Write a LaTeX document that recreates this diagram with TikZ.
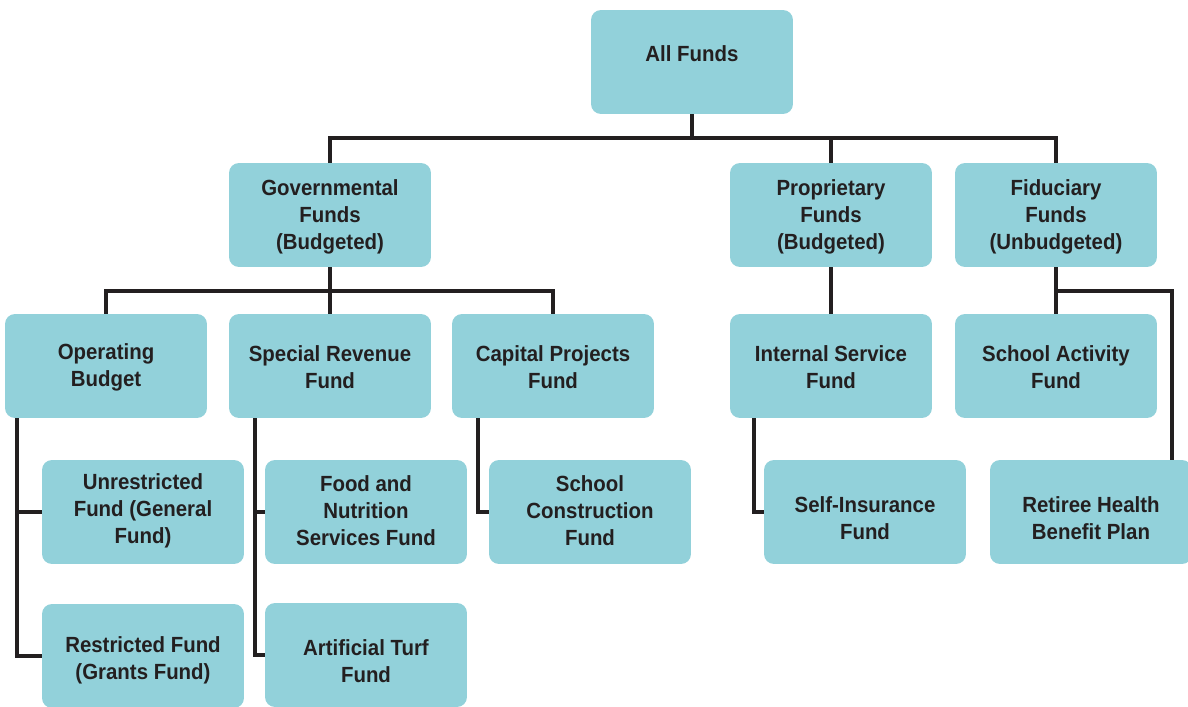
\documentclass[tikz,border=0pt]{standalone}
\usepackage{fontspec}
\setmainfont[FakeStretch=0.93]{Liberation Sans}
\definecolor{boxfill}{HTML}{92D1DA}
\definecolor{ink}{HTML}{231F20}
\begin{document}
\begin{tikzpicture}[x=0.02cm,y=-0.02cm,
  fundbox/.style={fill=boxfill, rounded corners=0.2cm, minimum width=4.04cm, minimum height=2.08cm, inner sep=0pt},
  fundtext/.style={text=ink, font=\bfseries\fontsize{12.5}{15.4}\selectfont, align=center, inner sep=0pt},
  conn/.style={draw=ink, line width=1.9pt}]
\useasboundingbox (0,0) rectangle (1188,707);
% boxes
\node[fundbox] (all) at (692,62) {};
\node[fundbox] (gov) at (330,215) {};
\node[fundbox] (pro) at (831,215) {};
\node[fundbox] (fid) at (1056,215) {};
\node[fundbox] (ope) at (106,366) {};
\node[fundbox] (spe) at (330,366) {};
\node[fundbox] (cap) at (553,366) {};
\node[fundbox] (int) at (831,366) {};
\node[fundbox] (sch) at (1056,366) {};
\node[fundbox] (unr) at (143,512) {};
\node[fundbox] (res) at (143,656) {};
\node[fundbox] (foo) at (366,512) {};
\node[fundbox] (art) at (366,655) {};
\node[fundbox] (con) at (590,512) {};
\node[fundbox] (sel) at (865,512) {};
\node[fundbox] (ret) at (1091,512) {};
% texts
\node[fundtext] (tall) at (692,54) {All Funds};
\node[fundtext] (tgov) at (330,217) {Governmental\\Funds\\(Budgeted)};
\node[fundtext] (tpro) at (831,217) {Proprietary\\Funds\\(Budgeted)};
\node[fundtext] (tfid) at (1056,217) {Fiduciary\\Funds\\(Unbudgeted)};
\node[fundtext] (tope) at (106,367.5) {Operating\\Budget};
\node[fundtext] (tspe) at (330,367.5) {Special Revenue\\Fund};
\node[fundtext] (tcap) at (553,367.5) {Capital Projects\\Fund};
\node[fundtext] (tint) at (831,367.5) {Internal Service\\Fund};
\node[fundtext] (tsch) at (1056,367.5) {School Activity\\Fund};
\node[fundtext] (tunr) at (143,511) {Unrestricted\\Fund (General\\Fund)};
\node[fundtext] (tres) at (143,660.5) {Restricted Fund\\(Grants Fund)};
\node[fundtext] (tfoo) at (366,511) {Food and\\Nutrition\\Services Fund};
\node[fundtext] (tart) at (366,661.5) {Artificial Turf\\Fund};
\node[fundtext] (tcon) at (590,511) {School\\Construction\\Fund};
\node[fundtext] (tsel) at (865,518.5) {Self-Insurance\\Fund};
\node[fundtext] (tret) at (1091,518.5) {Retiree Health\\Benefit Plan};
% bus coordinates
\coordinate (b1) at (0,138);
\coordinate (b2) at (0,291);
\coordinate (vo) at (17,0);
\coordinate (vs) at (255,0);
\coordinate (vc) at (478,0);
\coordinate (vi) at (754,0);
\coordinate (vr) at (1172,0);
% connectors level 1
\draw[conn] (all.south) -- (all.south |- b1);
\draw[conn] (gov.north) -- (gov.north |- b1) -- (fid.north |- b1) -- (fid.north);
\draw[conn] (pro.north) -- (pro.north |- b1);
% level 2
\draw[conn] (gov.south) -- (gov.south |- b2);
\draw[conn] (ope.north) -- (ope.north |- b2) -- (cap.north |- b2) -- (cap.north);
\draw[conn] (spe.north) -- (spe.north |- b2);
\draw[conn] (pro.south) -- (int.north);
\draw[conn] (fid.south) -- (sch.north);
\draw[conn] (fid.south |- b2) -- (vr |- b2) -- (vr |- ret.north);
% level 3
\draw[conn] (vo |- ope.south) -- (vo |- res.west) -- (res.west);
\draw[conn] (vo |- unr.west) -- (unr.west);
\draw[conn] (vs |- spe.south) -- (vs |- art.west) -- (art.west);
\draw[conn] (vs |- foo.west) -- (foo.west);
\draw[conn] (vc |- cap.south) -- (vc |- con.west) -- (con.west);
\draw[conn] (vi |- int.south) -- (vi |- sel.west) -- (sel.west);
\end{tikzpicture}
\end{document}
